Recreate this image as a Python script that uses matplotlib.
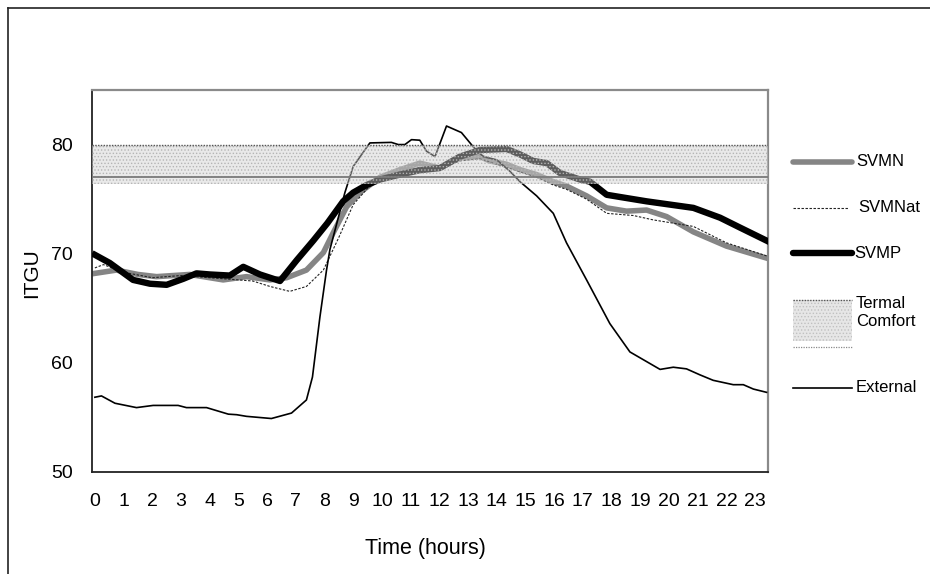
import numpy as np
import matplotlib
matplotlib.use("Agg")
import matplotlib.pyplot as plt
from matplotlib.lines import Line2D
from matplotlib.patches import Rectangle
from matplotlib import rcParams

# Arial-like font
rcParams['font.family'] = ['Liberation Sans', 'DejaVu Sans']
rcParams['hatch.linewidth'] = 0.6

# -----------------------------
# data (hour, ITGU)
# -----------------------------
ext_t = [0, 0.23, 0.7, 1.45, 2.03, 2.9, 3.19, 3.89, 4.65, 4.94, 5.28, 6.15, 6.85, 7.37,
         7.58, 7.84, 8.07, 8.19, 8.71, 9.0, 9.58, 10.33, 10.57, 10.8, 11.03, 11.32, 11.55,
         11.85, 12.25, 12.77, 13.18, 13.53, 14.0, 14.46, 14.81, 15.39, 15.97, 16.43, 17.13,
         17.94, 18.64, 19.69, 20.15, 20.61, 21.08, 21.54, 22.24, 22.59, 22.94, 23.4]
ext_v = [56.85, 56.97, 56.3, 55.9, 56.1, 56.1, 55.9, 55.9, 55.3, 55.25, 55.1, 54.9, 55.4, 56.6,
         58.7, 64.2, 68.5, 70.4, 75.6, 78.0, 80.15, 80.2, 80.0, 80.0, 80.45, 80.4, 79.4,
         78.9, 81.7, 81.1, 79.8, 78.9, 78.6, 77.55, 76.6, 75.3, 73.7, 71.0, 67.6,
         63.6, 61.0, 59.4, 59.6, 59.45, 58.9, 58.4, 58.0, 58.0, 57.6, 57.3]

svmp_t = [0, 0.52, 1.33, 1.92, 2.5, 3.08, 3.54, 4.0, 4.7, 5.17, 5.75, 6.45, 7.03, 7.61, 8.1,
          8.65, 9.0, 9.47, 9.93, 10.63, 11.32, 12.02, 12.72, 13.41, 14.34, 14.81, 15.27,
          15.74, 16.2, 16.9, 17.25, 17.83, 18.29, 19.22, 20.85, 21.78, 22.47, 23.4]
svmp_v = [69.9, 69.15, 67.6, 67.25, 67.15, 67.7, 68.2, 68.1, 68.0, 68.8, 68.1, 67.5, 69.4, 71.2, 72.8,
          74.8, 75.6, 76.3, 76.8, 77.25, 77.65, 77.85, 78.9, 79.5, 79.6, 79.1, 78.5,
          78.3, 77.4, 76.8, 76.6, 75.4, 75.2, 74.8, 74.2, 73.3, 72.4, 71.2]

svmn_t = [0, 0.75, 1.5, 2.15, 3.3, 4.47, 5.28, 6.1, 6.68, 7.37, 7.96, 8.3, 8.77, 9.23, 9.93,
          10.63, 11.32, 12.02, 12.72, 13.41, 13.76, 14.34, 14.81, 15.39, 15.97, 16.43, 17.13,
          17.83, 18.52, 19.22, 19.92, 20.85, 22.0, 23.4]
svmn_v = [68.2, 68.5, 68.1, 67.9, 68.1, 67.6, 67.9, 67.6, 67.8, 68.5, 70.1, 71.9, 74.3, 75.6, 77.0,
          77.7, 78.3, 77.85, 78.8, 78.9, 78.5, 78.2, 77.7, 77.25, 76.6, 76.2, 75.3,
          74.2, 73.9, 74.0, 73.4, 72.0, 70.7, 69.6]

svmnat_t = [0, 0.3, 1.0, 2.0, 3.0, 4.0, 5.0, 5.5, 6.1, 6.79, 7.37, 7.96, 8.5, 9.0, 9.5, 10.0,
            10.63, 11.32, 12.02, 12.72, 13.41, 14.0, 14.81, 15.39, 15.97, 16.43, 17.13, 17.83,
            18.76, 19.45, 20.85, 22.0, 23.4]
svmnat_v = [68.7, 69.0, 68.3, 67.8, 68.0, 67.8, 67.6, 67.5, 67.0, 66.55, 67.0, 68.5, 71.5, 74.5, 76.0, 77.0,
            77.5, 77.9, 77.8, 78.5, 78.7, 78.2, 77.5, 77.0, 76.3, 75.9, 75.0, 73.7,
            73.5, 73.1, 72.5, 71.0, 69.8]

comfort_low = 77
comfort_high = 80
comfort_shade_low = 76.4

hour_ticks = list(range(24))
itgu_ticks = [50, 60, 70, 80]

W, H = 930, 574
fig = plt.figure(figsize=(W / 100, H / 100), dpi=100)


def fx(x):
    return x / W


def fy(y):
    return 1 - y / H


ax = fig.add_axes([fx(92), fy(472), 676 / W, 382 / H])

# series
ax.plot(svmn_t, svmn_v, color='#858585', lw=4.0, solid_joinstyle='round', zorder=2)
ax.plot(svmnat_t, svmnat_v, color='#222222', lw=0.8, dashes=(2.2, 1.4), zorder=3)
ax.plot(svmp_t, svmp_v, color='black', lw=4.6, solid_joinstyle='round', zorder=3)
ax.plot(ext_t, ext_v, color='black', lw=1.2, zorder=4)

# thermal comfort band (drawn over the lines like the original)
ax.axhspan(comfort_shade_low, comfort_high, facecolor='#cfcfcf', alpha=0.45, lw=0, zorder=5)
ax.axhspan(comfort_shade_low, comfort_high, facecolor='none', hatch='.....',
           edgecolor='#b5b5b5', lw=0, zorder=5)
ax.axhline(comfort_high, color='#555555', lw=1.0, ls=(0, (1, 1)), zorder=6)
ax.axhline(comfort_low, color='#7a7a7a', lw=1.3, zorder=6)

ax.set_xlim(-0.1, 23.45)
ax.set_ylim(50, 85)
ax.set_xticks(hour_ticks)
ax.set_yticks(itgu_ticks)
ax.tick_params(length=0, labelsize=14)
ax.tick_params(axis='y', pad=14)
ax.tick_params(axis='x', pad=15)

for s in ['left', 'bottom']:
    ax.spines[s].set_color('#222222')
    ax.spines[s].set_linewidth(1.3)
for s in ['top', 'right']:
    ax.spines[s].set_color('#8a8a8a')
    ax.spines[s].set_linewidth(1.6)

ax.set_ylabel('ITGU', fontsize=15)
ax.yaxis.set_label_coords(-0.075, 0.52)
ax.set_xlabel('Time (hours)', fontsize=15.5)
ax.xaxis.set_label_coords(0.4926, -0.172)

# -----------------------------
# legend on the right
# -----------------------------
lx0, lx1, tx = 793, 852, 856
leg_fs = 12
fig.add_artist(Line2D([fx(lx0), fx(lx1)], [fy(162), fy(162)], color='#858585', lw=4.0,
                      solid_capstyle='round'))
fig.text(fx(tx), fy(162), 'SVMN', fontsize=leg_fs, va='center')
fig.add_artist(Line2D([fx(lx0), fx(lx1 - 4)], [fy(208), fy(208)], color='#222222', lw=0.8,
                      dashes=(2.2, 1.4)))
fig.text(fx(tx + 2), fy(208), 'SVMNat', fontsize=leg_fs, va='center')
fig.add_artist(Line2D([fx(lx0), fx(lx1)], [fy(253), fy(253)], color='black', lw=4.6,
                      solid_capstyle='round'))
fig.text(fx(tx - 2), fy(253), 'SVMP', fontsize=leg_fs, va='center')

fig.add_artist(Rectangle((fx(lx0), fy(341)), (lx1 - lx0) / W, 41 / H,
                         facecolor='#e6e6e6', hatch='.....', edgecolor='#c0c0c0', lw=0))
fig.add_artist(Line2D([fx(lx0), fx(lx1)], [fy(300), fy(300)], color='#555555', lw=1.0,
                      ls=(0, (1, 1))))
fig.add_artist(Line2D([fx(lx0), fx(lx1)], [fy(347), fy(347)], color='#8a8a8a', lw=0.9,
                      ls=(0, (1, 1))))
fig.text(fx(tx), fy(312), 'Termal\nComfort', fontsize=leg_fs, va='center', linespacing=1.25)

fig.add_artist(Line2D([fx(lx0), fx(lx1)], [fy(388), fy(388)], color='black', lw=1.2))
fig.text(fx(tx), fy(388), 'External', fontsize=leg_fs, va='center')

# outer frame (top and left only visible)
fig.add_artist(Line2D([fx(8), 1], [fy(7.5), fy(7.5)], color='#222222', lw=1.2))
fig.add_artist(Line2D([fx(8), fx(8)], [0, fy(7.5)], color='#222222', lw=1.2))

fig.savefig('out.png', dpi=100)
